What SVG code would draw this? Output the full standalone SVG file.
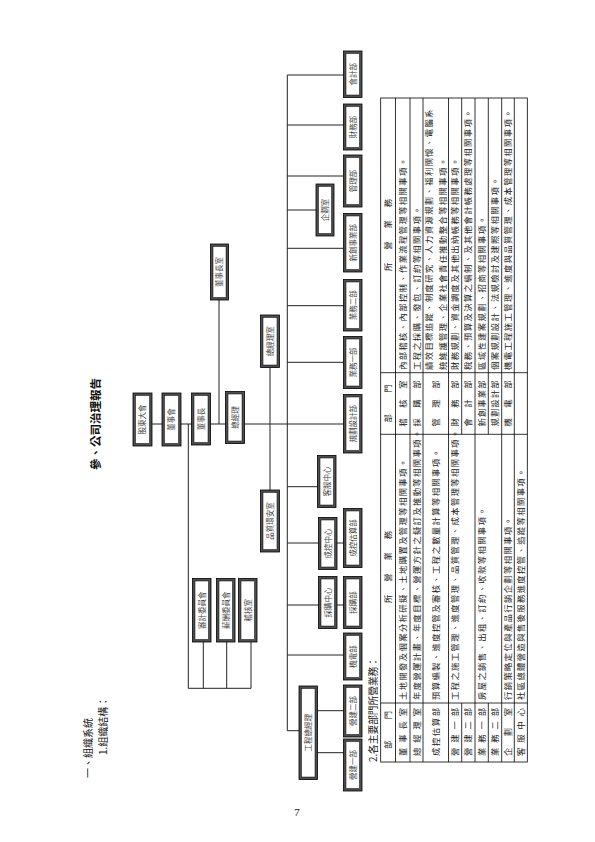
<svg xmlns="http://www.w3.org/2000/svg" width="595" height="842" viewBox="0 0 595 842">
<style>
.bo{fill:#4d4d4d;stroke:#000;stroke-width:0.8}
.bi{fill:#fff;stroke:#000;stroke-width:0.5}
.bt{font-family:"Noto Sans CJK TC","Noto Sans CJK SC",sans-serif;font-size:7.5px;fill:#444;text-anchor:middle}
.c{stroke:#222;stroke-width:1;fill:none}
.tl{stroke:#000;stroke-width:0.8;fill:none}
.tt{font-family:"Noto Sans CJK TC","Noto Sans CJK SC",sans-serif;font-size:8.3px;letter-spacing:1.4px;fill:#222}
.dn{font-family:"Noto Sans CJK TC","Noto Sans CJK SC",sans-serif;font-size:8.3px;fill:#222;text-anchor:middle}
.hd{font-family:"Noto Sans CJK TC","Noto Sans CJK SC",sans-serif;fill:#111}
</style>
<rect width="595" height="842" fill="#fff"/>
<g transform="translate(0,842) rotate(-90)">
  <text class="hd" x="372" y="100" font-size="11.5" font-weight="700">參、公司治理報告</text>
  <text class="hd" x="64" y="92" font-size="10">一、組織系統</text>
  <text class="hd" x="87" y="107" font-size="10">1.組織結構：</text>
  <text class="hd" x="80" y="376.5" font-size="9.7">2.各主要部門所營業務：</text>

  <g id="connectors">
    <line class="c" x1="418" y1="151" x2="418" y2="344"/>
    <line class="c" x1="418" y1="219" x2="542" y2="219"/>
    <line class="c" x1="352" y1="270" x2="474.5" y2="270"/>
    <line class="c" x1="418" y1="188.3" x2="153.7" y2="188.3"/>
    <line class="c" x1="153.7" y1="188.3" x2="153.7" y2="251"/>
    <line class="c" x1="153.7" y1="203.3" x2="200" y2="203.3"/>
    <line class="c" x1="153.7" y1="226.7" x2="200" y2="226.7"/>
    <line class="c" x1="153.7" y1="251" x2="200" y2="251"/>
    <line class="c" x1="111.3" y1="287.3" x2="767" y2="287.3"/>
    <line class="c" x1="767" y1="287.3" x2="767" y2="343.5"/>
    <line class="c" x1="717" y1="287.3" x2="717" y2="343.5"/>
    <line class="c" x1="666" y1="287.3" x2="666" y2="343.5"/>
    <line class="c" x1="632" y1="287.3" x2="632" y2="316"/>
    <line class="c" x1="593.7" y1="287.3" x2="593.7" y2="343.5"/>
    <line class="c" x1="536.3" y1="287.3" x2="536.3" y2="343.5"/>
    <line class="c" x1="479.7" y1="287.3" x2="479.7" y2="343.5"/>
    <line class="c" x1="355.3" y1="287.3" x2="355.3" y2="317.5"/>
    <line class="c" x1="299" y1="287.3" x2="299" y2="343.5"/>
    <line class="c" x1="237" y1="287.3" x2="237" y2="343.5"/>
    <line class="c" x1="187" y1="287.3" x2="187" y2="343.5"/>
    <line class="c" x1="111.3" y1="287.3" x2="111.3" y2="299"/>
    <line class="c" x1="131.3" y1="317.5" x2="131.3" y2="343.5"/>
    <line class="c" x1="89.3" y1="317.5" x2="89.3" y2="343.5"/>
  </g>

  <g id="n-gudong"><rect class="bo" x="396" y="133" width="53" height="19"/><rect class="bi" x="398.5" y="135.5" width="48" height="14"/><text class="bt" x="422.5" y="145.2">股東大會</text></g>
  <g id="n-board"><rect class="bo" x="396" y="162" width="53" height="19"/><rect class="bi" x="398.5" y="164.5" width="48" height="14"/><text class="bt" x="422.5" y="174.2">董事會</text></g>
  <g id="n-chairman"><rect class="bo" x="397" y="191.5" width="52" height="19"/><rect class="bi" x="399.5" y="194" width="47" height="14"/><text class="bt" x="423" y="203.7">董事長</text></g>
  <g id="n-president"><rect class="bo" x="398.5" y="225.5" width="52" height="19"/><rect class="bi" x="401" y="228" width="47" height="14"/><text class="bt" x="424.5" y="237.7">總經理</text></g>
  <g id="n-chairman-office"><rect class="bo" x="542" y="210.5" width="56" height="18"/><rect class="bi" x="544.5" y="213" width="51" height="13"/><text class="bt" x="570" y="222.2">董事長室</text></g>
  <g id="n-president-office"><rect class="bo" x="474.5" y="260.5" width="52.5" height="19"/><rect class="bi" x="477" y="263" width="47.5" height="14"/><text class="bt" x="500.75" y="272.7">總經理室</text></g>
  <g id="n-quality"><rect class="bo" x="290" y="260.5" width="62" height="19"/><rect class="bi" x="292.5" y="263" width="57" height="14"/><text class="bt" x="321" y="272.7">品質環安室</text></g>
  <g id="n-audit-committee"><rect class="bo" x="200" y="192.5" width="63.5" height="18.5"/><rect class="bi" x="202.5" y="195" width="58.5" height="13.5"/><text class="bt" x="231.75" y="204.5">審計委員會</text></g>
  <g id="n-pay-committee"><rect class="bo" x="200" y="216.5" width="63.5" height="18.5"/><rect class="bi" x="202.5" y="219" width="58.5" height="13.5"/><text class="bt" x="231.75" y="228.5">薪酬委員會</text></g>
  <g id="n-audit-office"><rect class="bo" x="200" y="238.5" width="63.5" height="18.5"/><rect class="bi" x="202.5" y="241" width="58.5" height="13.5"/><text class="bt" x="231.75" y="250.5">稽核室</text></g>
  <g id="n-accounting"><rect class="bo" x="744.5" y="343.5" width="46.5" height="18.5"/><rect class="bi" x="747" y="346" width="41.5" height="13.5"/><text class="bt" x="767.75" y="355.5">會計部</text></g>
  <g id="n-finance"><rect class="bo" x="692" y="343.5" width="46" height="18.5"/><rect class="bi" x="694.5" y="346" width="41" height="13.5"/><text class="bt" x="715" y="355.5">財務部</text></g>
  <g id="n-admin"><rect class="bo" x="635" y="343.5" width="52" height="18.5"/><rect class="bi" x="637.5" y="346" width="47" height="13.5"/><text class="bt" x="661" y="355.5">管理部</text></g>
  <g id="n-planning-office"><rect class="bo" x="606" y="316" width="52" height="18"/><rect class="bi" x="608.5" y="318.5" width="47" height="13"/><text class="bt" x="632" y="327.7">企劃室</text></g>
  <g id="n-new-biz"><rect class="bo" x="570" y="343.5" width="58.5" height="18.5"/><rect class="bi" x="572.5" y="346" width="53.5" height="13.5"/><text class="bt" x="599.25" y="355.5">新創事業部</text></g>
  <g id="n-sales2"><rect class="bo" x="511" y="343.5" width="51.5" height="18.5"/><rect class="bi" x="513.5" y="346" width="46.5" height="13.5"/><text class="bt" x="536.75" y="355.5">業務二部</text></g>
  <g id="n-sales1"><rect class="bo" x="453.5" y="343.5" width="52" height="18.5"/><rect class="bi" x="456" y="346" width="47" height="13.5"/><text class="bt" x="479.5" y="355.5">業務一部</text></g>
  <g id="n-design"><rect class="bo" x="389" y="343.5" width="58.5" height="18.5"/><rect class="bi" x="391.5" y="346" width="53.5" height="13.5"/><text class="bt" x="418.25" y="355.5">規劃設計部</text></g>
  <g id="n-service"><rect class="bo" x="334.5" y="317.5" width="52" height="18.5"/><rect class="bi" x="337" y="320" width="47" height="13.5"/><text class="bt" x="360.5" y="329.5">客服中心</text></g>
  <g id="n-cost-center"><rect class="bo" x="272.5" y="318.5" width="52" height="18.5"/><rect class="bi" x="275" y="321" width="47" height="13.5"/><text class="bt" x="298.5" y="330.5">成控中心</text></g>
  <g id="n-cost-dept"><rect class="bo" x="274.5" y="343.5" width="59" height="18.5"/><rect class="bi" x="277" y="346" width="54" height="13.5"/><text class="bt" x="304" y="355.5">成控估算部</text></g>
  <g id="n-purchase-center"><rect class="bo" x="213.5" y="318.5" width="52" height="18.5"/><rect class="bi" x="216" y="321" width="47" height="13.5"/><text class="bt" x="239.5" y="330.5">採購中心</text></g>
  <g id="n-purchase-dept"><rect class="bo" x="213.5" y="343.5" width="52" height="18.5"/><rect class="bi" x="216" y="346" width="47" height="13.5"/><text class="bt" x="239.5" y="355.5">採購部</text></g>
  <g id="n-mep"><rect class="bo" x="162" y="343.5" width="47" height="18.5"/><rect class="bi" x="164.5" y="346" width="42" height="13.5"/><text class="bt" x="185.5" y="355.5">機電部</text></g>
  <g id="n-eng-gm"><rect class="bo" x="62.5" y="299" width="93.5" height="18.5"/><rect class="bi" x="65" y="301.5" width="88.5" height="13.5"/><text class="bt" x="109.25" y="311">工程總經理</text></g>
  <g id="n-build2"><rect class="bo" x="105" y="343.5" width="52" height="18.5"/><rect class="bi" x="107.5" y="346" width="47" height="13.5"/><text class="bt" x="131" y="355.5">營建二部</text></g>
  <g id="n-build1"><rect class="bo" x="51" y="343.5" width="52" height="18.5"/><rect class="bi" x="53.5" y="346" width="47" height="13.5"/><text class="bt" x="77" y="355.5">營建一部</text></g>

  <g id="table">
    <rect class="tl" x="80" y="380.7" width="664" height="146.6"/>
    <line class="tl" x1="80" y1="395.5" x2="744" y2="395.5"/>
    <line class="tl" x1="80" y1="410" x2="744" y2="410"/>
    <line class="tl" x1="80" y1="423" x2="744" y2="423"/>
    <line class="tl" x1="80" y1="448.5" x2="744" y2="448.5"/>
    <line class="tl" x1="80" y1="461.7" x2="139" y2="461.7"/>
    <line class="tl" x1="407.7" y1="461.7" x2="744" y2="461.7"/>
    <line class="tl" x1="80" y1="475" x2="744" y2="475"/>
    <line class="tl" x1="80" y1="488.3" x2="139" y2="488.3"/>
    <line class="tl" x1="407.7" y1="488.3" x2="744" y2="488.3"/>
    <line class="tl" x1="80" y1="501.7" x2="744" y2="501.7"/>
    <line class="tl" x1="80" y1="514.3" x2="744" y2="514.3"/>
    <line class="tl" x1="139" y1="380.7" x2="139" y2="527.3"/>
    <line class="tl" x1="407.7" y1="380.7" x2="407.7" y2="527.3"/>
    <line class="tl" x1="469.3" y1="380.7" x2="469.3" y2="527.3"/>

    <text class="dn" x="112" y="391" textLength="38" lengthAdjust="spacing">部門</text>
    <text class="dn" x="275" y="391" textLength="72" lengthAdjust="spacing">所營業務</text>
    <text class="dn" x="438.5" y="391" textLength="38" lengthAdjust="spacing">部門</text>
    <text class="dn" x="607" y="391" textLength="72" lengthAdjust="spacing">所營業務</text>

    <text class="dn" x="110" y="406.3" textLength="48" lengthAdjust="spacing">董事長室</text>
    <text class="dn" x="110" y="419.7" textLength="48" lengthAdjust="spacing">總經理室</text>
    <text class="dn" x="110" y="438.7" textLength="48" lengthAdjust="spacing">成控估算部</text>
    <text class="dn" x="110" y="458" textLength="48" lengthAdjust="spacing">營建一部</text>
    <text class="dn" x="110" y="471.3" textLength="48" lengthAdjust="spacing">營建二部</text>
    <text class="dn" x="110" y="484.7" textLength="48" lengthAdjust="spacing">業務一部</text>
    <text class="dn" x="110" y="498" textLength="48" lengthAdjust="spacing">業務二部</text>
    <text class="dn" x="110" y="511.3" textLength="48" lengthAdjust="spacing">企劃室</text>
    <text class="dn" x="110" y="524" textLength="48" lengthAdjust="spacing">客服中心</text>

    <text class="tt" x="142" y="406.3">土地開發及個案分析研擬、土地購置及管理等相關事項。</text>
    <text class="tt" x="142" y="419.7">年度營運計畫、年度目標、營運方針之擬訂及推動等相關事項。</text>
    <text class="tt" x="142" y="438.7">預算編製、進度控管及審核、工程之數量計算等相關事項。</text>
    <text class="tt" x="142" y="458">工程之施工管理、進度管理、品質管理、成本管理等相關事項。</text>
    <text class="tt" x="142" y="484.7">房屋之銷售、出租、訂約、收款等相關事項。</text>
    <text class="tt" x="142" y="511.3">行銷策略定位與產品行銷企劃等相關事項。</text>
    <text class="tt" x="142" y="524">社區總體營造與售後服務進度控管、追蹤等相關事項。</text>

    <text class="dn" x="438.5" y="406.3" textLength="46" lengthAdjust="spacing">稽核室</text>
    <text class="dn" x="438.5" y="419.7" textLength="46" lengthAdjust="spacing">採購部</text>
    <text class="dn" x="438.5" y="438.7" textLength="46" lengthAdjust="spacing">管理部</text>
    <text class="dn" x="438.5" y="458" textLength="46" lengthAdjust="spacing">財務部</text>
    <text class="dn" x="438.5" y="471.3" textLength="46" lengthAdjust="spacing">會計部</text>
    <text class="dn" x="438.5" y="484.7" textLength="46" lengthAdjust="spacing">新創事業部</text>
    <text class="dn" x="438.5" y="498" textLength="46" lengthAdjust="spacing">規劃設計部</text>
    <text class="dn" x="438.5" y="511.3" textLength="46" lengthAdjust="spacing">機電部</text>

    <text class="tt" x="472" y="406.3">內部稽核、內部控制、作業流程管理等相關事項。</text>
    <text class="tt" x="472" y="419.7">工程之採購、發包、訂約等相關事項。</text>
    <text class="tt" x="472" y="432.3">績效目標追蹤、制度研究、人力資源規劃、福利關懷、電腦系</text>
    <text class="tt" x="472" y="445.7">統維護管理、企業社會責任推動整合等相關事項。</text>
    <text class="tt" x="472" y="458">財務規劃、資金調度及其他出納帳務等相關事項。</text>
    <text class="tt" x="472" y="471.3">稅務、預算及決算之編制、及其他會計帳務處理等相關事項。</text>
    <text class="tt" x="472" y="484.7">區域性建案規劃、招商等相關事項。</text>
    <text class="tt" x="472" y="498">個案規劃設計、法規檢討及建照等相關事項。</text>
    <text class="tt" x="472" y="511.3">機電工程施工管理、進度與品質管理、成本管理等相關事項。</text>
  </g>
</g>
<text x="297" y="816" font-family="Liberation Serif, serif" font-size="11" text-anchor="middle" fill="#111">7</text>
</svg>
